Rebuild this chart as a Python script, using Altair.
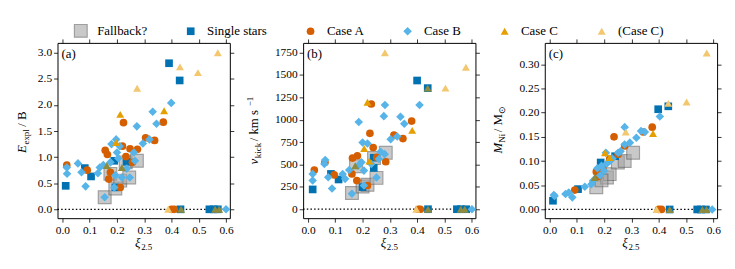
import altair as alt
import pandas as pd

# ---------------- data ----------------
SERIES = ["Fallback?", "Single stars", "Case A", "Case B", "Case C", "(Case C)", "mixed"]
COLORS = ["#a6a6a6", "#0072b2", "#d55e00", "#56b4e9", "#e69f00", "#f2c76e", "#8e8b3e"]
SHAPES = ["square", "square", "circle", "diamond", "triangle-up", "triangle-up", "triangle-up"]
SIZES = [165, 60, 60, 75, 65, 65, 65]
OPAC = [0.6, 1, 1, 1, 1, 1, 1]
STROKES = ["#606060", "#0072b2", "#d55e00", "#56b4e9", "#e69f00", "#f2c76e", "#8e8b3e"]
STROKEW = [1.2, 0, 0, 0, 0, 0, 0]

# panel (a): explosion energy
A_fb_x = [0.155, 0.176, 0.194, 0.212, 0.232, 0.245, 0.273]
A_fb_y = [0.23, 0.68, 0.40, 0.55, 0.90, 0.61, 0.93]
A_ss_x = [0.012, 0.082, 0.105, 0.19, 0.235, 0.194, 0.391, 0.430, 0.433, 0.539, 0.555, 0.57]
A_ss_y = [0.45, 0.79, 0.63, 0.93, 0.91, 0.42, 2.80, 2.47, 0, 0, 0, 0]
A_ca_x = [0.016, 0.091, 0.157, 0.165, 0.176, 0.17, 0.224, 0.220, 0.248, 0.275, 0.305, 0.338, 0.370, 0.212, 0.233, 0.257, 0.40, 0.41]
A_ca_y = [0.85, 0.75, 1.13, 1.05, 0.71, 0.58, 1.66, 1.21, 1.16, 1.15, 1.37, 1.32, 1.67, 0.42, 1.01, 0.90, 0, 0]
A_cb_x = [0.016, 0.017, 0.057, 0.07, 0.085, 0.13, 0.137, 0.155, 0.176, 0.18, 0.197, 0.2, 0.21, 0.273, 0.295, 0.319, 0.331, 0.345, 0.399, 0.194, 0.218, 0.236, 0.262, 0.266, 0.247, 0.19, 0.60, 0.15, 0.205]
A_cb_y = [0.80, 0.68, 0.88, 0.71, 0.44, 0.69, 0.80, 0.23, 0.90, 1.25, 1.34, 1.09, 1.21, 1.59, 1.26, 1.34, 1.87, 1.64, 2.04, 0.65, 0.61, 0.78, 1.09, 0.93, 0.61, 0.42, 0, 0.85, 0.98]
A_cc_x = [0.212, 0.373, 0.197]
A_cc_y = [1.82, 1.89, 1.28]
A_pc_x = [0.570, 0.431, 0.497, 0.274, 0.388]
A_pc_y = [3.0, 2.73, 2.62, 2.32, 0]
A_mx_x = [0.163, 0.218, 0.435, 0.56, 0.575]
A_mx_y = [0.84, 0.80, 0, 0, 0]

# panel (b): kick velocity
B_fb_x = [0.161, 0.2, 0.218, 0.251, 0.242, 0.285, 0.176]
B_fb_y = [181, 254, 273, 350, 571, 630, 480]
B_ss_x = [0.017, 0.084, 0.112, 0.40, 0.439, 0.241, 0.241, 0.2, 0.44, 0.546, 0.561, 0.58]
B_ss_y = [221, 394, 332, 1437, 1352, 575, 461, 247, 0, 0, 0, 0]
B_ca_x = [0.023, 0.232, 0.227, 0.38, 0.315, 0.348, 0.239, 0.181, 0.163, 0.161, 0.179, 0.096, 0.062, 0.285, 0.252, 0.218, 0.405, 0.412]
B_ca_y = [438, 1175, 847, 984, 829, 789, 689, 597, 571, 394, 320, 383, 523, 530, 578, 265, 0, 0]
B_cb_x = [0.017, 0.017, 0.063, 0.06, 0.074, 0.088, 0.127, 0.136, 0.151, 0.161, 0.186, 0.2, 0.218, 0.205, 0.282, 0.278, 0.339, 0.353, 0.409, 0.303, 0.327, 0.196, 0.205, 0.232, 0.251, 0.266, 0.281, 0.26, 0.184, 0.601]
B_cb_y = [394, 320, 549, 505, 357, 232, 394, 339, 438, 173, 973, 744, 733, 265, 1164, 1039, 1032, 954, 1164, 781, 811, 523, 431, 505, 354, 641, 615, 560, 486, 0]
B_cc_x = [0.218, 0.382, 0.206, 0.225]
B_cc_y = [1194, 880, 678, 538]
B_pc_x = [0.282, 0.579, 0.504, 0.397]
B_pc_y = [1747, 1585, 1352, 0]
B_mx_x = [0.439, 0.173, 0.44, 0.56, 0.575]
B_mx_y = [1352, 486, 0, 0, 0]

# panel (c): nickel mass
C_fb_x = [0.171, 0.21, 0.22, 0.25, 0.275, 0.306, 0.19]
C_fb_y = [0.046, 0.066, 0.073, 0.097, 0.10, 0.117, 0.06]
C_ss_x = [0.012, 0.104, 0.398, 0.435, 0.187, 0.24, 0.44, 0.541, 0.555, 0.573]
C_ss_y = [0.018, 0.042, 0.207, 0.213, 0.097, 0.11, 0, 0, 0, 0]
C_ca_x = [0.092, 0.376, 0.236, 0.343, 0.196, 0.171, 0.22, 0.275, 0.251, 0.18, 0.41, 0.40]
C_ca_y = [0.04, 0.17, 0.15, 0.16, 0.083, 0.078, 0.104, 0.131, 0.114, 0.068, 0, 0]
C_cb_x = [0.015, 0.058, 0.083, 0.129, 0.153, 0.206, 0.275, 0.335, 0.349, 0.404, 0.275, 0.294, 0.318, 0.251, 0.596, 0.175, 0.19, 0.2, 0.185, 0.21, 0.16, 0.22, 0.23, 0.26, 0.07, 0.018]
C_cb_y = [0.03, 0.032, 0.025, 0.047, 0.052, 0.117, 0.17, 0.162, 0.16, 0.192, 0.134, 0.138, 0.148, 0.117, 0, 0.085, 0.09, 0.08, 0.07, 0.095, 0.06, 0.1, 0.105, 0.12, 0.035, 0.028]
C_cc_x = [0.379, 0.203, 0.22]
C_cc_y = [0.157, 0.117, 0.107]
C_pc_x = [0.576, 0.502, 0.435, 0.279, 0.392]
C_pc_y = [0.323, 0.222, 0.219, 0.160, 0]
C_mx_x = [0.165, 0.44, 0.56, 0.575]
C_mx_y = [0.066, 0, 0, 0]

X_TICKS = [0.0, 0.1, 0.2, 0.3, 0.4, 0.5, 0.6]
A_TICKS = [0.0, 0.5, 1.0, 1.5, 2.0, 2.5, 3.0]
B_TICKS = [0, 250, 500, 750, 1000, 1250, 1500, 1750]
C_TICKS = [0.00, 0.05, 0.10, 0.15, 0.20, 0.25, 0.30]

XDOM = [-0.018, 0.614]
W, H = 174, 177
FONT = "Liberation Serif"

# ---------------- helpers ----------------
W_UP = {" ": 250, "/": 278, "B": 667, "k": 500, "m": 778, "s": 389, "M": 889, "N": 722,
        "i": 278, "e": 444, "x": 500, "p": 500, "l": 278, "c": 444, "1": 500, "\u2212": 564,
        "2": 500, ".": 250, "5": 500, "\u2299": 700}
W_IT = {"E": 611, "v": 444, "M": 833, "\u03be": 470}


def seg_w(t, s, it):
    tab = W_IT if it else W_UP
    return sum(tab.get(ch, 500) for ch in t) * s / 1000.0


ONE = alt.Data(values=[{"a": 0}])


def title_layers(segs, x, y, angle=None):
    total = sum(seg_w(t, s, it) + g for t, s, it, d, g in segs)
    pos = -total / 2.0
    out = []
    for t, s, it, d, g in segs:
        props = dict(text=t, fontSize=s, font=FONT, fontStyle="italic" if it else "normal",
                     align="left", baseline="alphabetic", dx=pos, dy=d, color="black")
        if angle is not None:
            props["angle"] = angle
        out.append(alt.Chart(ONE).mark_text(**props).encode(x=alt.value(x), y=alt.value(y)))
        pos += seg_w(t, s, it) + g
    return out


def make_df(groups):
    rows = []
    for k, (s, (xs, ys)) in enumerate(zip(SERIES, groups)):
        for xv, yv in zip(xs, ys):
            rows.append({"series": s, "xi": xv, "val": yv, "rank": k})
    return pd.DataFrame(rows)


LEG = alt.Legend(orient="none", legendX=16, legendY=-20, direction="horizontal", columns=6,
                 title=None, values=SERIES[:6], labelFont=FONT, labelFontSize=13,
                 symbolSize=70, columnPadding=36, labelOffset=9, symbolStrokeWidth=0)


def panel(df, ydom, yticks, yfmt, label, ytitle_segs, ytitle_x):
    xs = alt.Scale(domain=XDOM, nice=False, zero=False)
    ys = alt.Scale(domain=ydom, nice=False, zero=False)
    zero = alt.Chart(pd.DataFrame({"val": [0]})).mark_rule(
        color="black", strokeDash=[1.5, 2.2], strokeWidth=1.2
    ).encode(y=alt.Y("val:Q", scale=ys, axis=None), x=alt.value(0), x2=alt.value(W))
    pts = alt.Chart(df).mark_point(filled=True).encode(
        x=alt.X("xi:Q", scale=xs, axis=alt.Axis(orient="bottom", values=X_TICKS, format=".1f", title=None)),
        y=alt.Y("val:Q", scale=ys, axis=alt.Axis(orient="left", values=yticks, format=yfmt, title=None)),
        color=alt.Color("series:N", scale=alt.Scale(domain=SERIES, range=COLORS), legend=LEG),
        shape=alt.Shape("series:N", scale=alt.Scale(domain=SERIES, range=SHAPES), legend=LEG),
        size=alt.Size("series:N", scale=alt.Scale(type="ordinal", domain=SERIES, range=SIZES), legend=None),
        opacity=alt.Opacity("series:N", scale=alt.Scale(type="ordinal", domain=SERIES, range=OPAC), legend=None),
        stroke=alt.Stroke("series:N", scale=alt.Scale(domain=SERIES, range=STROKES), legend=None),
        strokeWidth=alt.StrokeWidth("series:N", scale=alt.Scale(type="ordinal", domain=SERIES, range=STROKEW), legend=None),
        order=alt.Order("rank:Q"),
    )
    ghost = alt.Chart(df).mark_point(opacity=0).encode(
        x=alt.X("xi:Q", scale=xs, axis=alt.Axis(orient="top", values=X_TICKS, labels=False, title=None)),
        y=alt.Y("val:Q", scale=ys, axis=alt.Axis(orient="right", values=yticks, labels=False, title=None)),
    )
    lab = alt.Chart(ONE).mark_text(text=label, font=FONT, fontSize=13, align="left",
                                   baseline="top", color="black").encode(
        x=alt.value(4), y=alt.value(5))
    xt = title_layers([("\u03be", 13, True, 0, 0), ("2.5", 9, False, 3, 0)], W / 2, 206)
    yt = title_layers(ytitle_segs, ytitle_x, H / 2, angle=270)
    return alt.layer(zero, pts, ghost, lab, *xt, *yt).resolve_axis(
        x="independent", y="independent").properties(width=W, height=H)


dfa = make_df([(A_fb_x, A_fb_y), (A_ss_x, A_ss_y), (A_ca_x, A_ca_y), (A_cb_x, A_cb_y),
               (A_cc_x, A_cc_y), (A_pc_x, A_pc_y), (A_mx_x, A_mx_y)])
dfb = make_df([(B_fb_x, B_fb_y), (B_ss_x, B_ss_y), (B_ca_x, B_ca_y), (B_cb_x, B_cb_y),
               (B_cc_x, B_cc_y), (B_pc_x, B_pc_y), (B_mx_x, B_mx_y)])
dfc = make_df([(C_fb_x, C_fb_y), (C_ss_x, C_ss_y), (C_ca_x, C_ca_y), (C_cb_x, C_cb_y),
               (C_cc_x, C_cc_y), (C_pc_x, C_pc_y), (C_mx_x, C_mx_y)])

pa = panel(dfa, [-0.17, 3.19], A_TICKS, ".1f", "(a)",
           [("E", 13, True, 0, 0.5), ("expl", 9, False, 3, 2.5), (" / B", 13, False, 0, 0)], -32)
pb = panel(dfb, [-100, 1857], B_TICKS, "d", "(b)",
           [("v", 13, True, 0, 0.5), ("kick", 9, False, 3, 1.5), (" / km s", 13, False, 0, 0.5),
            ("\u22121", 9, False, -5, 0)], -46)
pc = panel(dfc, [-0.018, 0.344], C_TICKS, ".2f", "(c)",
           [("M", 13, True, 0, 0), ("Ni", 9, False, 3, 1.5), (" / M", 13, False, 0, -3),
            ("\u2299", 9, False, 3, 0)], -43)

right = alt.hconcat(pb, pc, spacing=70, bounds="flush")
chart = alt.hconcat(pa, right, spacing=74, bounds="flush").properties(
    padding={"left": 7, "top": 14, "right": 5, "bottom": 5}
).configure(font=FONT).configure_view(stroke="black", strokeWidth=1).configure_axis(
    domain=False, grid=False, tickColor="black", tickSize=4, tickWidth=0.8,
    labelColor="black", labelFont=FONT, labelFontSize=11.5, labelPadding=2
)

chart.save("out.html", embed_options={"renderer": "svg", "actions": False})
